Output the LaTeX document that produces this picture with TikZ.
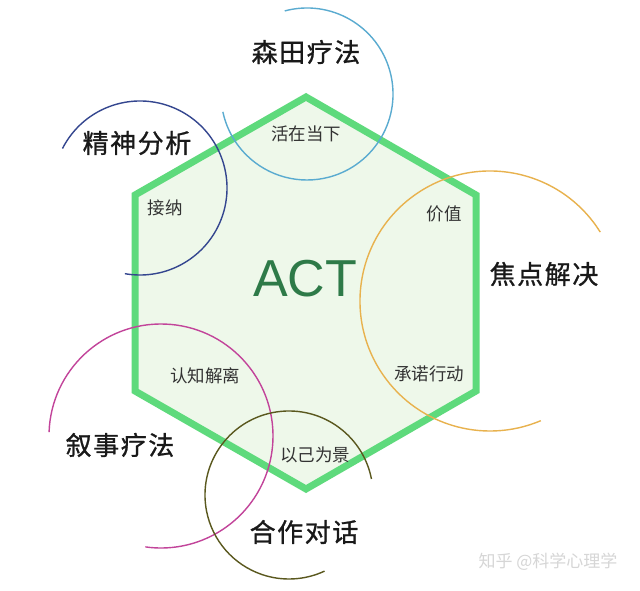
\documentclass[tikz,border=0pt]{standalone}
\usepackage{fontspec}
\setmainfont{Liberation Sans}
\newfontfamily\cjk{Noto Sans CJK SC}
\newfontfamily\cjkb[FakeBold=1.0,LetterSpace=6]{Noto Sans CJK SC}
\definecolor{hexline}{HTML}{5EDA7C}
\definecolor{hexfill}{HTML}{EEF8EA}
\definecolor{actgreen}{HTML}{2E7A48}
\definecolor{moricol}{HTML}{5AABD0}
\definecolor{psycol}{HTML}{34468F}
\definecolor{solcol}{HTML}{E8B24E}
\definecolor{narcol}{HTML}{C2449A}
\definecolor{colcol}{HTML}{5A581E}
\definecolor{wmark}{HTML}{D6D6D6}
\begin{document}
\begin{tikzpicture}[x=1pt,y=1pt,
  innerlabel/.style={font=\cjk\fontsize{17.5pt}{18pt}\selectfont, text=black!80, inner sep=0pt},
  outerlabel/.style={font=\cjkb\fontsize{26pt}{28pt}\selectfont, text=black!90, inner sep=0pt},
  ring/.style={line width=1.4pt}]
\useasboundingbox (0,0) rectangle (640,590);
\fill[white] (0,0) rectangle (640,590);
% hexagon
\draw[draw=hexline, fill=hexfill, line width=7pt, line join=miter]
  (306,493) -- (476,395) -- (476,199) -- (306,101) -- (135,199) -- (135,395) -- cycle;
% arcs
\coordinate (cM) at (307,496);
\coordinate (cP) at (140,402);
\coordinate (cS) at (490,289);
\coordinate (cN) at (161,154);
\coordinate (cC) at (289,95);
\draw[ring, moricol] ([shift={(105:86pt)}]cM) arc[start angle=105, end angle=-168, radius=86pt];
\draw[ring, psycol] ([shift={(153:87pt)}]cP) arc[start angle=153, end angle=-100, radius=87pt];
\draw[ring, solcol] ([shift={(32:130pt)}]cS) arc[start angle=32, end angle=293, radius=130pt];
\draw[ring, narcol] ([shift={(178:112pt)}]cN) arc[start angle=178, end angle=-98, radius=112pt];
\draw[ring, colcol] ([shift={(11:84pt)}]cC) arc[start angle=11, end angle=295, radius=84pt];
% centre
\node[text=actgreen, font=\fontsize{52pt}{54pt}\selectfont, inner sep=0pt] (act) at (305,311) {ACT};
% inner labels
\node[innerlabel] (now) at (306,456) {活在当下};
\node[innerlabel] (acc) at (165,382) {接纳};
\node[innerlabel] (val) at (444,376) {价值};
\node[innerlabel] (com) at (429,216) {承诺行动};
\node[innerlabel] (def) at (205,214) {认知解离};
\node[innerlabel] (self) at (315,135) {以己为景};
% outer labels
\node[outerlabel] (mor) at (306,538) {森田疗法};
\node[outerlabel] (psa) at (137,447) {精神分析};
\node[outerlabel] (sft) at (544,316) {焦点解决};
\node[outerlabel] (nar) at (120,145) {叙事疗法};
\node[outerlabel] (cdl) at (304,58) {合作对话};
% watermark
\node[font=\cjk\fontsize{17pt}{18pt}\selectfont, text=wmark, inner sep=0pt] (wm) at (548,28) {知乎 @科学心理学};
\end{tikzpicture}
\end{document}
